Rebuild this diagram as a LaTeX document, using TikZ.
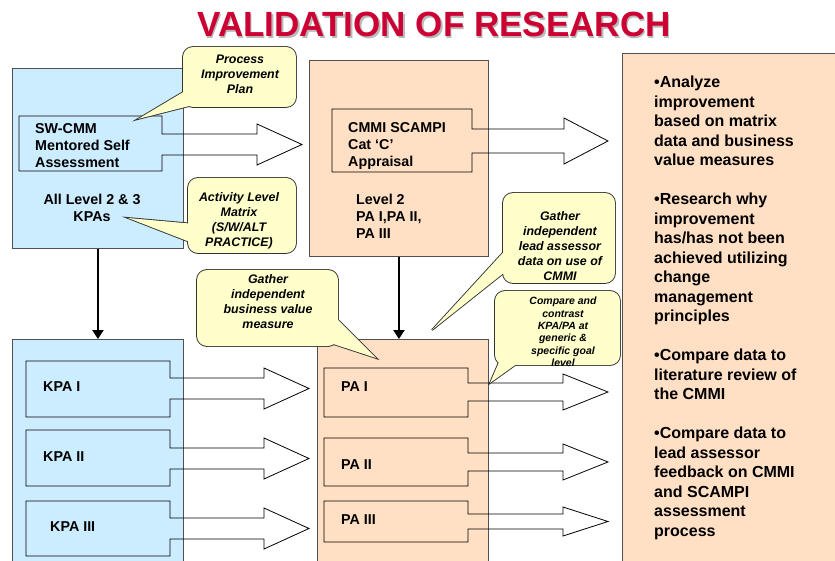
\documentclass[tikz,border=0pt]{standalone}
\usepackage{fontspec}
\setmainfont{Liberation Sans}
\usetikzlibrary{arrows.meta}
\definecolor{boxblue}{HTML}{CCECFF}
\definecolor{boxpeach}{HTML}{FFE0C4}
\definecolor{calloutyellow}{HTML}{FFFFCC}
\definecolor{titlered}{HTML}{CC0033}
\definecolor{boxedge}{HTML}{505050}
\tikzset{
  panel/.style={draw=boxedge, line width=0.9pt, anchor=north west, inner sep=0pt},
  blockline/.style={draw=black, line width=0.8pt, line join=miter},
  maintext/.style={font=\fontsize{14.3}{17}\selectfont\bfseries, align=left, inner sep=0pt},
  ctext/.style={font=\fontsize{12.4}{15}\selectfont\bfseries\itshape, align=center, inner sep=0pt},
  smallctext/.style={font=\fontsize{10.5}{12.4}\selectfont\bfseries\itshape, align=center, inner sep=0pt},
  downarrow/.style={line width=2.5pt, -{Triangle[width=11pt,length=9pt]}},
}
% block arrow: x1 y1 x2 y2 stemtop stembottom headx tipx headextra
\newcommand\blockarr[9]{%
  \draw[blockline] (#1,#2) -- (#3,#2) -- (#3,#5) -- (#7,#5) -- (#7,{#5-#9})
    -- (#8,{(#5+#6)/2}) -- (#7,{#6+#9}) -- (#7,#6) -- (#3,#6) -- (#3,#4)
    -- (#1,#4) -- cycle;}
% callout: x1 y1 x2 y2 base1 base2 tip
\newcommand\callout[7]{%
  \draw[line width=1.8pt, draw=black!80, fill=calloutyellow, rounded corners=10pt] (#1,#2) rectangle (#3,#4);
  \draw[line width=1.8pt, draw=black!80, fill=calloutyellow, line join=miter] #5 -- #7 -- #6 -- cycle;
  \fill[calloutyellow, rounded corners=10pt] (#1,#2) rectangle (#3,#4);
  \fill[calloutyellow] #5 -- #7 -- #6 -- cycle;}
\begin{document}
\begin{tikzpicture}[x=1pt, y=-1pt]
\useasboundingbox (0,0) rectangle (835,561);
\clip (0,0) rectangle (835,561);
\fill[white] (0,0) rectangle (835,561);

% title
\node[font=\fontsize{35}{35}\selectfont\bfseries, text=gray!55, inner sep=0pt] (titleshadow) at (435.5,26) {VALIDATION OF RESEARCH};
\node[font=\fontsize{35}{35}\selectfont\bfseries, text=titlered, inner sep=0pt] (title) at (434,24.5) {VALIDATION OF RESEARCH};

% panels
\node[panel, fill=boxblue, minimum width=171pt, minimum height=180pt] (blue1) at (12,68) {};
\node[panel, fill=boxpeach, minimum width=179pt, minimum height=196pt] (org1) at (309,60) {};
\node[panel, fill=boxblue, minimum width=171pt, minimum height=240pt] (blue2) at (12,339) {};
\node[panel, fill=boxpeach, minimum width=171pt, minimum height=240pt] (org2) at (317,339) {};
\node[panel, fill=boxpeach, minimum width=230pt, minimum height=530pt] (right) at (622,53) {};

% block arrows
\blockarr{19}{116}{162}{171}{134}{155}{257}{302}{10}
\blockarr{332}{109}{472}{172}{129}{153}{564}{608}{11}
\blockarr{26}{361}{170}{417}{378}{399}{264}{309}{10}
\blockarr{26}{430}{170}{486}{448}{469}{264}{309}{10}
\blockarr{26}{501}{170}{556}{518}{539}{264}{309}{10}
\blockarr{324}{368}{468}{417}{383}{401}{563}{608}{9}
\blockarr{324}{438}{468}{486}{453}{471}{563}{608}{9}
\blockarr{324}{501}{468}{542}{514}{529}{563}{608}{7}

% vertical arrows
\draw[downarrow] (blue1.south) -- (blue2.north);
\draw[downarrow] (org1.south) -- (org1.south |- org2.north);

% texts in panels
\node[maintext, anchor=west] (swcmm) at (35,146) {SW-CMM\\Mentored Self\\Assessment};
\node[maintext, anchor=center, align=center] (alllevel) at (92,208) {All Level 2 \& 3\\KPAs};
\node[maintext, anchor=west] (cmmi) at (348,146) {CMMI SCAMPI\\Cat ‘C’\\Appraisal};
\node[maintext, anchor=west] (level2) at (356,216) {Level 2\\PA I,PA II,\\PA III};
\node[maintext, anchor=west] (kpa1) at (43,387) {KPA I};
\node[maintext, anchor=west] (kpa2) at (43,457) {KPA II};
\node[maintext, anchor=west] (kpa3) at (50,527) {KPA III};
\node[maintext, anchor=west] (pa1) at (341,387) {PA I};
\node[maintext, anchor=west] (pa2) at (341,465) {PA II};
\node[maintext, anchor=west] (pa3) at (341,520) {PA III};

% callouts
\callout{183}{47}{296}{107}{(190,88)}{(205,102)}{(138,119)}
\node[ctext] (pip) at (240,74) {Process\\Improvement\\Plan};
\callout{188}{178}{296}{253}{(195,224)}{(195,244)}{(128,218)}
\node[ctext] (alm) at (239,221) {Activity Level\\Matrix\\(S/W/ALT\\PRACTICE)};
\callout{197}{270}{338}{346}{(330,312)}{(315,338)}{(376,358)}
\node[ctext] (gbv) at (268,301.5) {Gather\\independent\\business value\\measure};
\callout{503}{193}{615}{283}{(510,245)}{(510,268)}{(432,330)}
\node[ctext] (gla) at (560,246) {Gather\\independent\\lead assessor\\data on use of\\CMMI};
\callout{495}{291}{620}{365}{(502,355)}{(525,358)}{(490,383)}
\node[smallctext] (cmp) at (563,332) {Compare and\\contrast\\KPA/PA at\\generic \&\\specific goal\\level};

% right panel text
\node[font=\fontsize{16}{19.5}\selectfont\bfseries, align=left, inner sep=0pt, anchor=north west] (rtext) at (654,76)
 {•Analyze\\improvement\\based on matrix\\data and business\\value measures\\[19.5pt]
  •Research why\\improvement\\has/has not been\\achieved utilizing\\change\\management\\principles\\[19.5pt]
  •Compare data to\\literature review of\\the CMMI\\[19.5pt]
  •Compare data to\\lead assessor\\feedback on CMMI\\and SCAMPI\\assessment\\process};
\end{tikzpicture}
\end{document}
